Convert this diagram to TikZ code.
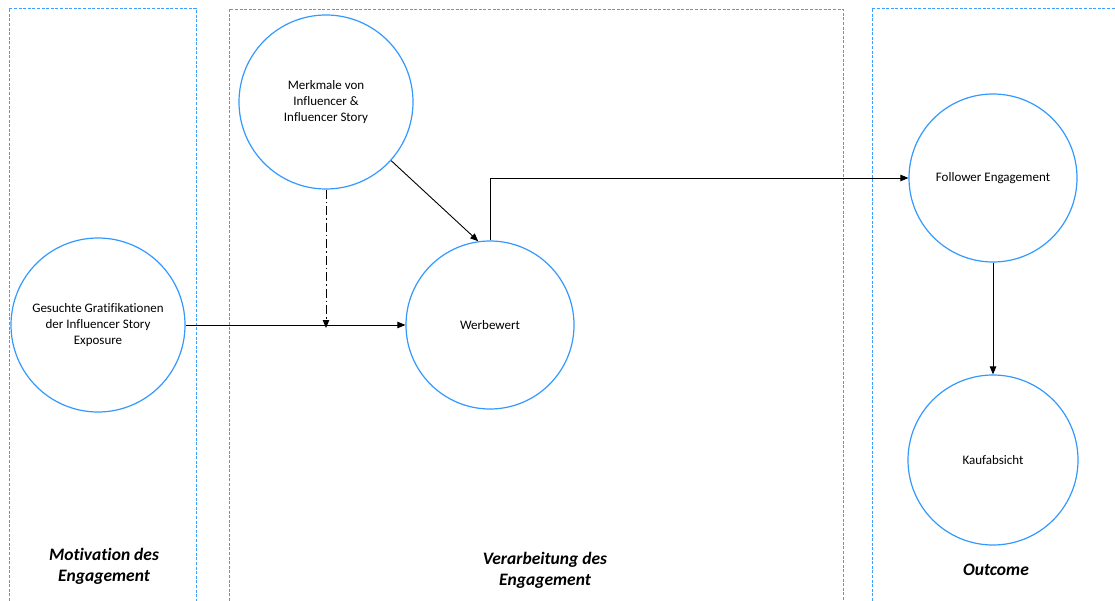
\documentclass[tikz,border=0pt]{standalone}
\usepackage{fontspec}
\setmainfont[Ligatures=NoCommon]{Carlito}
\usetikzlibrary{arrows.meta}
\definecolor{panelblue}{RGB}{60,160,255}
\definecolor{ringblue}{RGB}{51,153,255}
\begin{document}
\begin{tikzpicture}[x=1pt,y=-1pt,
  panel/.style={draw=panelblue,line width=0.9pt,dash pattern=on 3pt off 1.6pt},
  construct/.style={draw=ringblue,line width=1.2pt,circle,inner sep=0pt,align=center,font=\fontsize{13}{16}\selectfont},
  flow/.style={draw=black,line width=0.9pt,-{Triangle[length=8pt,width=6.5pt]}},
  phase/.style={font=\fontsize{17.5}{21}\selectfont\bfseries\itshape,align=center}]
\useasboundingbox (0,0) rectangle (1115,601);
% phase panels, open at the bottom
\draw[panel] (9,601) -- (9,8) -- (196,8) -- (196,601);
\draw[panel] (229,601) -- (229,9) -- (843,9) -- (843,601);
\draw[panel] (872,601) -- (872,8) -- (1115,8);
% constructs
\node[construct,minimum size=174pt] (grat) at (98,325) {Gesuchte Gratifikationen\\der Influencer Story\\Exposure};
\node[construct,minimum size=174pt] (merk) at (326,102) {Merkmale von\\Influencer \&\\Influencer Story};
\node[construct,minimum size=168pt] (werb) at (490,325) {Werbewert};
\node[construct,minimum size=168pt] (foll) at (993,178) {Follower Engagement};
\node[construct,minimum size=170pt] (kauf) at (993,460) {Kaufabsicht};
% moderating influence on the main path
\coordinate (mod) at (merk.south |- grat.east);
% paths
\draw[flow] (grat.east) -- (werb.west);
\draw[flow,dash pattern=on 9pt off 3pt on 1.5pt off 3pt] (merk.south) -- ([yshift=-3pt]mod);
\draw[flow] (merk.-42) -- (werb.98);
\draw[flow] (werb.north) |- (foll.west);
\draw[flow] (foll.south) -- (kauf.north);
% phase labels
\node[phase] (p1) at (104,566) {Motivation des\\Engagement};
\node[phase] (p2) at (545,570) {Verarbeitung des\\Engagement};
\node[phase] (p3) at (996,570) {Outcome};
\end{tikzpicture}
\end{document}
